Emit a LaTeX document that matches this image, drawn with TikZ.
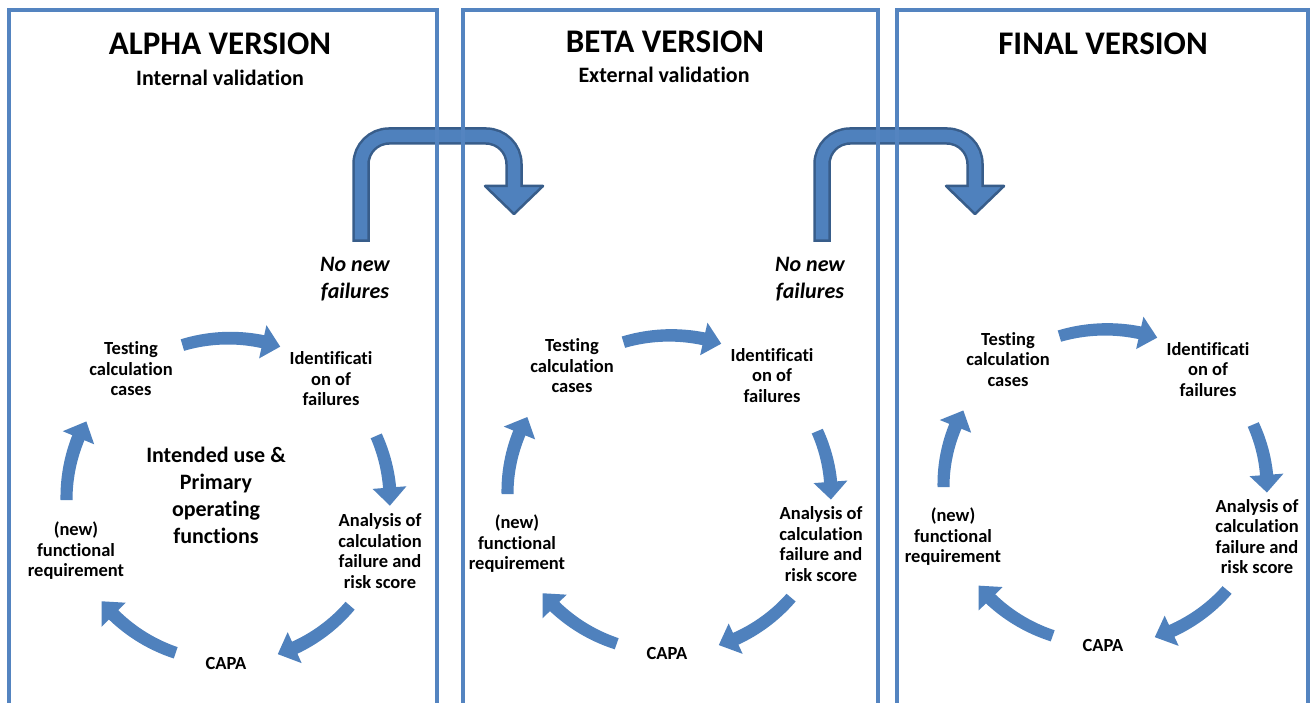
\documentclass[tikz,border=0pt]{standalone}
\usepackage{fontspec}
\setmainfont{Carlito}[Ligatures=NoCommon]
\definecolor{ublue}{RGB}{79,129,189}
\definecolor{uborder}{RGB}{56,93,138}
\definecolor{panelc}{RGB}{84,132,192}
\newcommand\cycarrow[2]{%
  \pgfmathsetmacro\cyE{#2-5.5}%
  \fill[ublue] plot[domain=#1:\cyE, samples=30, variable=\t] ({155.5*cos(\t)},{155.5*sin(\t)}) -- plot[domain=\cyE:#1, samples=30, variable=\t] ({(167.5+1.5*(\t-(#1))/((#2)-(#1)))*cos(\t)},{(167.5+1.5*(\t-(#1))/((#2)-(#1)))*sin(\t)}) -- cycle;%
  \fill[ublue] ({145*cos(#2-6.4)},{145*sin(#2-6.4)}) -- ({179*cos(#2-6.4)},{179*sin(#2-6.4)}) -- ({162*cos(#2)},{162*sin(#2)}) -- cycle;}
\newcommand\mycycle[4]{%
  \begin{scope}[shift={(#1,#2)}, yscale=#3]
    \cycarrow{-106.4}{-71.2}
    \cycarrow{-23.4}{2}
    \cycarrow{40.9}{72.1}
    \cycarrow{108.9}{141.3}
    \cycarrow{180}{209}
    \node[lbl] (#4t) at (-97,-131) {Testing\\calculation\\cases};
    \node[lbl] (#4i) at (103,-121) {Identificati\\on of\\failures};
    \node[lbl] (#4a) at (152,51) {Analysis of\\calculation\\failure and\\risk score};
    \node[lbl] (#4c) at (-2,163) {CAPA};
    \node[lbl] (#4n) at (-152,51) {(new)\\functional\\requirement};
  \end{scope}}
\newcommand\uarrow[1]{%
  \begin{scope}[shift={(#1,0)}]
    \draw[uborder, line width=17.5pt, rounded corners=28pt] (361,242) -- (361,136) -- (514,136) -- (514,187);
    \filldraw[fill=ublue, draw=uborder, line width=2.5pt, line join=round] (485,186) -- (543,186) -- (514,214) -- cycle;
    \draw[ublue, line width=12.5pt, rounded corners=28pt] (361,239.5) -- (361,136) -- (514,136) -- (514,189);
  \end{scope}}
\begin{document}
\begin{tikzpicture}[x=1pt,y=-1pt,
  panel/.style={draw=panelc, line width=3.5pt},
  title/.style={font=\bfseries\fontsize{33}{40}\selectfont, anchor=base, inner sep=0pt},
  sub/.style={font=\bfseries\fontsize{22}{27}\selectfont, anchor=base, inner sep=0pt},
  lbl/.style={font=\bfseries\fontsize{18.5}{20.5}\selectfont, align=center, inner sep=0pt},
  big/.style={font=\bfseries\fontsize{22}{27}\selectfont, align=center, inner sep=0pt},
  nnf/.style={font=\bfseries\itshape\fontsize{22}{27}\selectfont, align=center, inner sep=0pt}]
\useasboundingbox (0,0) rectangle (1311,703);
\clip (0,0) rectangle (1311,703);
\fill[white] (0,0) rectangle (1311,703);
% U-turn arrows
\uarrow{0}
\uarrow{461}
% panels
\draw[panel] (9,730) -- (9,10) -- (437,10) -- (437,730);
\draw[panel] (463,730) -- (463,10) -- (878,10) -- (878,730);
\draw[panel] (897,730) -- (897,10) -- (1308,10) -- (1308,730);
% titles
\node[title] (ta) at (220,55) {ALPHA VERSION};
\node[sub] (sa) at (220,86) {Internal validation};
\node[title] (tb) at (665,53) {BETA VERSION};
\node[sub] (sb) at (664,83) {External validation};
\node[title] (tf) at (1103,55) {FINAL VERSION};
\node[nnf] (n1) at (355,279) {No new\\failures};
\node[nnf] (n2) at (810,279) {No new\\failures};
% cycles
\mycycle{228}{500}{1}{a}
\mycycle{669}{494}{0.98}{b}
\mycycle{1105}{487}{0.974}{f}
\node[big] (iu) at (216,495) {Intended use \&\\Primary\\operating\\functions};
\end{tikzpicture}
\end{document}
